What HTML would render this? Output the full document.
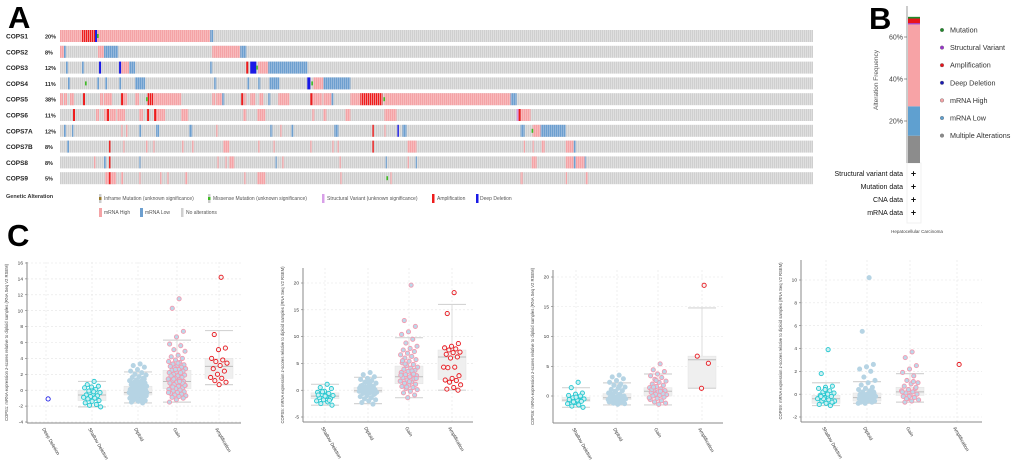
<!DOCTYPE html>
<html><head><meta charset="utf-8">
<style>
html,body{margin:0;padding:0;background:#fff;}
svg{display:block;font-family:"Liberation Sans",sans-serif;}
</style></head>
<body>
<svg id="fig" width="1020" height="460" viewBox="0 0 1020 460" xmlns="http://www.w3.org/2000/svg">
<defs>
<pattern id="stripe" width="2" height="12" patternUnits="userSpaceOnUse">
<rect width="2" height="12" fill="#e6e6e6"/><rect width="1.3" height="12" fill="#cfcfcf"/>
</pattern>
<pattern id="stripeH" width="2" height="12" patternUnits="userSpaceOnUse">
<rect width="2" height="12" fill="#f9c4c6"/><rect width="1.3" height="12" fill="#f4a3a6"/>
</pattern>
<pattern id="stripeL" width="2" height="12" patternUnits="userSpaceOnUse">
<rect width="2" height="12" fill="#a6c4e2"/><rect width="1.3" height="12" fill="#6d9fcf"/>
</pattern>
<pattern id="stripeA" width="2" height="12" patternUnits="userSpaceOnUse">
<rect width="2" height="12" fill="#f4a3a6"/><rect width="1.2" height="12" fill="#ee1c1c"/>
</pattern>
</defs>
<text x="8" y="28" font-size="31" font-weight="bold">A</text>
<text x="869" y="29" font-size="31" font-weight="bold">B</text>
<text x="7" y="246" font-size="31" font-weight="bold">C</text>
<g id="onco"></g>
<g id="legendA">
<text x="6" y="198" font-size="5.5" font-weight="bold" fill="#333">Genetic Alteration</text>
<rect x="99" y="194" width="2.5" height="9" fill="#ccc"/><rect x="99" y="197" width="2.5" height="3" fill="#9a7a2a"/>
<text x="104" y="200" font-size="5" fill="#555">Inframe Mutation (unknown significance)</text>
<rect x="208" y="194" width="2.5" height="9" fill="#ccc"/><rect x="208" y="197" width="2.5" height="3" fill="#3dbb22"/>
<text x="213" y="200" font-size="5" fill="#555">Missense Mutation (unknown significance)</text>
<rect x="322" y="194" width="2.5" height="9" fill="#d8a0e8"/>
<text x="327" y="200" font-size="5" fill="#555">Structural Variant (unknown significance)</text>
<rect x="432" y="194" width="2.5" height="9" fill="#ee1c1c"/>
<text x="437" y="200" font-size="5" fill="#555">Amplification</text>
<rect x="476" y="194" width="2.5" height="9" fill="#1a1ae6"/>
<text x="480" y="200" font-size="5" fill="#555">Deep Deletion</text>
<rect x="99" y="208" width="3" height="9" fill="#f4a3a6"/>
<text x="104" y="214" font-size="5" fill="#555">mRNA High</text>
<rect x="140" y="208" width="3" height="9" fill="#6d9fcf"/>
<text x="145" y="214" font-size="5" fill="#555">mRNA Low</text>
<rect x="181" y="208" width="2.5" height="9" fill="#cfcfcf"/>
<text x="186" y="214" font-size="5" fill="#555">No alterations</text>
</g>
<g id="panelB"></g>
<g id="panelC"></g>
</svg>
<script>
const NS="http://www.w3.org/2000/svg";
// ---------- Panel A data ----------
const genes=["COPS1","COPS2","COPS3","COPS4","COPS5","COPS6","COPS7A","COPS7B","COPS8","COPS9"];
const genePct=["20%","8%","12%","11%","38%","11%","12%","8%","8%","5%"];
const nSamples=376;
const alterations=[
[["H",0,75],["A",11,17.5],["D",17.5,18.5],["M",18.5,19.5],["L",75,76.5]],
[["H",0,2],["L",2,3],["H",19,22],["L",22,29],["H",76,90],["L",90,93]],
[["L",3,4],["L",11,12],["D",19.5,20.5],["D",29.5,30.5],["H",30.5,34.5],["L",34.5,37.5],["L",75,76],["A",93,94],["D",95,98],["M",98,99],["H",99,104],["L",104,123.5]],
[["L",4,5],["M",12.5,13],["L",18.5,19.5],["L",22.5,23.5],["L",29.5,30.5],["L",37.5,42.5],["L",77,78],["L",93.5,94.5],["L",99,100],["L",104.5,109.5],["D",123.5,125],["M",125.5,126.5],["H",126.5,131.5],["L",131.5,145]],
[["H",0,1.5],["H",2,3.5],["H",5,7],["A",11.5,12.5],["H",20,21.5],["H",22,26],["A",30.5,31.5],["H",31.5,33.5],["H",37.5,39.5],["M",43,43.5],["A",43.5,46.5],["H",46.5,60.5],["H",76,77.5],["H",78,81],["L",81,82],["A",90.5,91.5],["H",92,93],["H",95,97.5],["H",99.5,101.5],["L",104,105],["H",109,114.5],["A",125,126],["H",126,131],["H",131.5,135.5],["L",135.5,136.5],["H",145,161],["A",150,161],["M",161.5,162],["H",162,225],["L",225,228]],
[["A",6.5,7.5],["H",18,19.5],["H",22,23.5],["A",23.5,24.5],["H",25,28],["H",28.5,32.5],["H",39.5,41.5],["A",43.5,44.5],["H",47.5,52.5],["A",47,48],["H",60.5,64],["H",91.5,93],["H",98.5,102.5],["H",126,127],["H",131.5,133],["H",142.5,145],["H",162,168],["S",228,229],["A",229,230],["H",230,235]],
[["L",2,3],["L",6,6.5],["H",30.5,31],["H",33,33.5],["L",39.5,40.5],["L",48,49.5],["L",64.5,66],["H",78,78.5],["L",105,106],["H",110,110.5],["L",115.5,116.5],["L",137,139],["A",156,156.5],["H",162,162.5],["D",168.5,169],["L",171,173],["L",230,232],["M",235.5,236],["H",236,240],["L",240,252.5]],
[["L",3.5,4.5],["A",24.5,25],["H",31.5,32],["H",43,43.5],["H",46.5,47],["H",61,61.5],["H",66,66.5],["H",81.5,84.5],["H",99,99.5],["H",106.5,107],["H",125,125.5],["H",136,136.5],["H",138.5,139],["A",156,156.5],["H",173.5,178],["H",231.5,232],["H",236,236.5],["H",240.5,242],["H",252.5,256.5],["L",256.5,257.5]],
[["H",17,17.5],["L",22,23],["A",24.5,25],["L",39.5,40],["H",78.5,79],["H",82.5,83],["H",84.5,87],["L",107.5,108],["H",111,111.5],["H",139.5,140],["L",162.5,163],["H",173.5,174],["L",177.5,178],["H",235.5,238],["H",252.5,256.5],["L",256.5,257.5],["H",257.5,262],["L",262,262.5]],
[["H",22.5,28],["A",24.5,25],["H",30.5,31.5],["H",39.5,40],["H",50,50.5],["H",53.5,54],["H",62.5,63.5],["H",92,92.5],["H",98.5,102.5],["H",140,140.5],["M",163,163.5],["H",165,165.5],["H",230,231],["H",252.5,253],["H",262.5,263.5]]
];
function el(tag,attrs,parent){const e=document.createElementNS(NS,tag);for(const k in attrs)e.setAttribute(k,attrs[k]);parent.appendChild(e);return e;}
const onco=document.getElementById('onco');
const ox0=60, ox1=813;
const sx=i=>ox0+i*(ox1-ox0)/nSamples;
const fills={H:"url(#stripeH)",L:"url(#stripeL)",A:"#ee1c1c",D:"#1a1ae6",M:"#3dbb22",S:"#d8a0e8"};
genes.forEach((g,r)=>{
  const top=30+r*15.8;
  const row=el('g',{},onco);
  
  
  const lab=el('text',{x:6,y:top+8.5,'font-size':6.5,'font-weight':'bold',fill:'#222'},row);lab.textContent=g;
  
  
  const pc=el('text',{x:45,y:top+8.5,'font-size':5.5,'font-weight':'bold',fill:'#222'},row);pc.textContent=genePct[r];
  
  
  el('rect',{x:ox0,y:top,width:ox1-ox0,height:12,fill:'url(#stripe)'},row);
  const order={H:0,L:0,A:1,D:1,S:1,M:2};
  alterations[r].slice().sort((a,b)=>order[a[0]]-order[b[0]]).forEach(s=>{
    const x=sx(s[1]), w=Math.max(1.4,sx(s[2])-sx(s[1]));
    const isM=s[0]==="M";
    let f=fills[s[0]];
    if(s[0]==="A" && w>3) f="url(#stripeA)";
    const rc=el('rect',{x:x,y:isM?top+4:top,width:isM?1.6:w,height:isM?4:12,fill:f},row);
    
    
  });
});
// ---------- Panel B data ----------
const freqCats=["Multiple Alterations","mRNA Low","mRNA High","Structural Variant","Amplification","Mutation"];
const freqVals=[13,14,39,0.6,2.2,0.8];
const freqColors=["#8c8c8c","#5fa0d0","#f7a3a6","#9933cc","#e8141b","#1f8a2a"];
const bTicks=[20,40,60];
const legendLabels=["Mutation","Structural Variant","Amplification","Deep Deletion","mRNA High","mRNA Low","Multiple Alterations"];
const legendColors=["#1f8a2a","#9933cc","#e8141b","#1a1ab4","#f7a3a6","#5fa0d0","#8c8c8c"];
const dataRows=["Structural variant data","Mutation data","CNA data","mRNA data"];
const B=document.getElementById('panelB');
const by=v=>163-v*2.1;
el('rect',{x:907,y:163,width:14,height:60,fill:'none',stroke:'#eee','stroke-width':0.8},B);
el('line',{x1:907,y1:6,x2:907,y2:163,stroke:'#999','stroke-width':1},B);
bTicks.forEach(t=>{
  el('line',{x1:904,y1:by(t),x2:907,y2:by(t),stroke:'#555','stroke-width':0.6},B);
  const tx=el('text',{x:903,y:by(t)+2.5,'font-size':7,'text-anchor':'end',fill:'#444'},B);tx.textContent=t+'%';
  
  
});
let acc=0;
freqVals.forEach((v,i)=>{
  const r=el('rect',{x:908,y:by(acc+v),width:12,height:v*2.1,fill:freqColors[i]},B);
  
  
  acc+=v;
});
const yt=el('text',{x:0,y:0,'font-size':6.5,fill:'#555','text-anchor':'middle',transform:'translate(878,80) rotate(-90)'},B);yt.textContent="Alteration Frequency";


legendLabels.forEach((l,i)=>{
  const y=30+i*17.6;
  const c=el('circle',{cx:942,cy:y,r:1.8,fill:legendColors[i],stroke:'#666','stroke-width':0.4},B);
  
  
  const t=el('text',{x:950,y:y+2.5,'font-size':7.2,fill:'#333'},B);t.textContent=l;
  
  
});
dataRows.forEach((l,i)=>{
  const y=176+i*13;
  const t=el('text',{x:903,y:y,'font-size':7,'text-anchor':'end',fill:'#111'},B);t.textContent=l;
  
  
  const p=el('text',{x:913.5,y:y+0.5,'font-size':9,'font-weight':'bold','text-anchor':'middle',fill:'#111'},B);p.textContent='+';
  
  
});
const hc=el('text',{x:917,y:233,'font-size':4.5,'text-anchor':'middle',fill:'#444'},B);hc.textContent="Hepatocellular Carcinoma";



// ---------- Panel C data ----------
const plotTitles=["COPS1: mRNA expression z-scores relative to diploid samples (RNA Seq V2 RSEM)","COPS5: mRNA expression z-scores relative to diploid samples (RNA Seq V2 RSEM)","COPS6: mRNA expression z-scores relative to diploid samples (RNA Seq V2 RSEM)","COPS9: mRNA expression z-scores relative to diploid samples (RNA Seq V2 RSEM)"];
const plotCats=[["Deep Deletion","Shallow Deletion","Diploid","Gain","Amplification"],["Shallow Deletion","Diploid","Gain","Amplification"],["Shallow Deletion","Diploid","Gain","Amplification"],["Shallow Deletion","Diploid","Gain","Amplification"]];
const plotTicks=[[-4,-2,0,2,4,6,8,10,12,14,16],[-5,0,5,10,15,20],[0,5,10,15,20],[-2,0,2,4,6,8,10]];
const boxes1=[null,[-2.1,-1.3,-0.6,0,1.1],[-1.6,-0.6,-0.3,0.5,2.3],[-1.5,0.2,1.1,2.5,6.3],[0.7,1.5,3.0,4.0,7.5]];
const boxes2=[[-2.8,-1.6,-1.1,-0.5,1.1],[-2.5,-0.4,-0.1,0.5,2.4],[-1.4,1.2,2.5,4.5,9.8],[0,2,6.2,7.5,16]];
const boxes3=[[-1.9,-0.9,-0.7,-0.2,1.4],[-1.5,-0.6,-0.3,0.4,2.2],[-1.5,0,0.8,1.4,3.7],[1.3,1.3,6.1,6.7,14.8]];
const boxes4=[[-1,-0.8,-0.4,-0.1,1],[-0.8,-0.6,-0.3,0.1,1.1],[-0.7,-0.1,0.2,0.6,1.8],null];
const pts1=[[-1.1],
[1.1,0.7,0.5,0.4,0.3,0.1,-0.1,-0.3,-0.5,-0.6,-0.7,-0.8,-0.9,-1.0,-1.1,-1.3,-1.4,-1.6,-1.8,-1.9,-2.1,-0.2],
[3.3,3.1,2.9,2.6,2.4,2.2,2.0,1.9,1.7,1.6,1.5,1.3,1.2,1.1,1.0,0.9,0.8,0.7,0.6,0.5,0.5,0.4,0.3,0.3,0.2,0.1,0.1,0,0,-0.1,-0.1,-0.2,-0.2,-0.3,-0.3,-0.4,-0.4,-0.5,-0.5,-0.6,-0.6,-0.7,-0.8,-0.8,-0.9,-1.0,-1.0,-1.1,-1.2,-1.3,-1.4,-1.5,-1.6,0.2,-0.3,0.6,-0.7,1.4,-1.1,0.0],
[11.5,10.3,7.4,6.7,5.8,5.6,5.1,4.9,4.4,4.2,4.0,3.8,3.6,3.5,3.3,3.2,3.1,3.0,2.9,2.8,2.7,2.6,2.5,2.4,2.3,2.2,2.1,2.0,1.9,1.8,1.7,1.6,1.5,1.4,1.3,1.2,1.1,1.0,0.9,0.8,0.7,0.6,0.5,0.4,0.3,0.2,0.1,0,-0.1,-0.2,-0.3,-0.4,-0.5,-0.6,-0.7,-0.8,-0.9,-1.0,-1.2,-1.5,2.2,1.4,0.6,3.4,1.8,0.9,2.6,-0.3,1.1,0.4],
[14.2,7.0,5.3,5.1,4.0,3.8,3.6,3.4,3.1,2.7,2.4,2.0,1.6,1.5,1.2,1.0,0.7]];
const pts2=[[1.1,0.5,0.3,-0.2,-0.4,-0.6,-0.8,-1.0,-1.2,-1.4,-1.6,-1.8,-2.0,-2.2,-2.5,-2.8,-1.1,-0.9,-1.9,-0.3],
[3.3,2.9,2.5,2.2,2.0,1.8,1.5,1.3,1.1,0.9,0.7,0.5,0.4,0.3,0.2,0.1,0,-0.1,-0.2,-0.3,-0.4,-0.5,-0.6,-0.8,-1.0,-1.2,-1.4,-1.6,-1.8,-2.0,-2.3,-2.6,0.6,-0.2,1.0,0.2,-0.7,1.6,0.8,-0.1],
[19.6,13,11.9,10.9,10.4,9.5,8.8,8.2,7.8,7.5,7.2,6.9,6.6,6.3,6.0,5.7,5.4,5.1,4.8,4.6,4.3,4.1,3.9,3.7,3.5,3.3,3.1,2.9,2.7,2.5,2.3,2.1,1.9,1.7,1.5,1.3,1.1,0.9,0.7,0.5,0.3,0.1,-0.2,-0.5,-0.9,-1.4,2.8,3.6,4.9,2.2,1.6,5.5,3.0,0.6],
[18.2,14.3,8.7,8.2,7.9,7.7,7.5,7.1,7.0,6.7,6.2,6.0,4.3,4.3,4.2,2.7,2.2,1.9,1.8,1.5,1.0,0.5,0.2,0]];
const pts3=[[2.3,1.4,0.5,0.3,0.1,-0.1,-0.3,-0.5,-0.7,-0.8,-0.9,-1.1,-1.3,-1.5,-1.7,-1.9,-0.2,-0.6,0.0,-1.0],
[3.5,3.2,2.9,2.6,2.3,2.0,1.8,1.5,1.3,1.1,0.9,0.7,0.5,0.3,0.1,0,-0.1,-0.2,-0.3,-0.4,-0.5,-0.6,-0.7,-0.8,-0.9,-1.0,-1.1,-1.2,-1.3,-1.4,0.4,-0.3,0.8,-0.6,1.6,0.2],
[5.4,4.4,4.1,3.7,3.4,3.1,2.8,2.5,2.3,2.0,1.8,1.6,1.4,1.2,1.0,0.9,0.7,0.6,0.5,0.3,0.2,0.1,0,-0.2,-0.4,-0.6,-0.8,-1.0,-1.2,-1.4,1.1,0.4,2.6,-0.3,0.8,1.5],
[18.6,6.7,5.5,1.3]];
const pts4=[[3.9,1.8,0.7,0.6,0.5,0.3,0.2,0.1,0,-0.1,-0.2,-0.3,-0.4,-0.5,-0.6,-0.7,-0.8,-0.9,-1.0,-0.4,-0.6,0.0,-0.2,-0.7,0.4],
[10.2,5.5,2.6,2.4,2.2,2.0,1.5,1.2,1.0,0.8,0.6,0.5,0.4,0.3,0.2,0.1,0,0,-0.1,-0.1,-0.2,-0.2,-0.3,-0.3,-0.4,-0.4,-0.5,-0.5,-0.6,-0.6,-0.7,-0.7,-0.8,-0.8,0.1,-0.3,0.2,-0.5,-0.1,0.3],
[3.7,3.2,2.5,2.2,1.9,1.6,1.2,1.0,0.9,0.7,0.5,0.4,0.3,0.2,0.1,0,-0.1,-0.2,-0.3,-0.4,-0.5,-0.6,-0.7,0.6,-0.2,0.2,1.1,-0.4],
[2.6]];
const ptsAll=[pts1,pts2,pts3,pts4];
const boxesAll=[boxes1,boxes2,boxes3,boxes4];
const layouts=[
 {x0:27,x1:241,yTop:262,yBot:423,vTop:16,pTop:263,vRef:-4,pRef:422,cx:[46,92,138,177,219]},
 {x0:303,x1:473,yTop:268,yBot:422,vTop:20,pTop:283,vRef:-5,pRef:417,cx:[325,368,409,452]},
 {x0:553,x1:723,yTop:270,yBot:423,vTop:20,pTop:277,vRef:0,pRef:396,cx:[576,617,658,702]},
 {x0:801,x1:982,yTop:260,yBot:422,vTop:10,pTop:280,vRef:-2,pRef:417,cx:[826,867,910,957]}
];
const catStyle={"Deep Deletion":["#1a1ae6","#ffffff"],"Shallow Deletion":["#22c7cf","#cdeff2"],"Diploid":["#b6d4e4","#b6d4e4"],"Gain":["#f39bb0","#bcd8ea"],"Amplification":["#e8141b","#f4f4f4"]};
const C=document.getElementById('panelC');
layouts.forEach((L,p)=>{
  const g=el('g',{},C);
  
  
  const yS=v=>L.pRef+(v-L.vRef)*(L.pTop-L.pRef)/(L.vTop-L.vRef);
  plotTicks[p].forEach(t=>{
    el('line',{x1:L.x0,y1:yS(t),x2:L.x1,y2:yS(t),stroke:'#e4e4e4','stroke-width':0.6,'stroke-dasharray':'2,2'},g);
    el('line',{x1:L.x0-2,y1:yS(t),x2:L.x0,y2:yS(t),stroke:'#555','stroke-width':0.5},g);
    const tx=el('text',{x:L.x0-4,y:yS(t)+1.6,'font-size':4.8,'text-anchor':'end',fill:'#333'},g);tx.textContent=t;
    
    
  });
  const cats=plotCats[p];
  cats.forEach((c,ci)=>{
    const x=L.cx[ci];
    el('line',{x1:x,y1:L.yTop,x2:x,y2:L.yBot,stroke:'#e4e4e4','stroke-width':0.6,'stroke-dasharray':'2,2'},g);
    const lb=el('text',{x:0,y:0,'font-size':4.8,fill:'#333',transform:`translate(${x-4},${L.yBot+6}) rotate(60)`},g);lb.textContent=c;
    
    
    const b=boxesAll[p][ci];
    if(b){
      const hw=14;
      el('line',{x1:x,y1:yS(b[0]),x2:x,y2:yS(b[4]),stroke:'#dcdcdc','stroke-width':1},g);
      const bx=el('rect',{x:x-hw,y:yS(b[3]),width:hw*2,height:Math.max(0.5,yS(b[1])-yS(b[3])),fill:'#efefef',stroke:'#e2e2e2','stroke-width':0.5},g);
      
      
      [b[0],b[4]].forEach(v=>el('line',{x1:x-hw,y1:yS(v),x2:x+hw,y2:yS(v),stroke:'#d4d4d4','stroke-width':1.2},g));
      el('line',{x1:x-hw,y1:yS(b[2]),x2:x+hw,y2:yS(b[2]),stroke:'#bdbdbd','stroke-width':1},g);
    }
    const st=catStyle[c];
    ptsAll[p][ci].forEach((v,i)=>{
      const frac=((i+1)*0.6180339887)%1;
      const jit=(frac-0.5)*18;
      const pt=el('circle',{cx:x+jit,cy:yS(v),r:2.1,fill:st[1],stroke:st[0],'stroke-width':0.9},g);
      
      
    });
  });
  el('line',{x1:L.x0,y1:L.yTop,x2:L.x0,y2:L.yBot,stroke:'#888','stroke-width':1},g);
  el('line',{x1:L.x0,y1:L.yBot,x2:L.x1,y2:L.yBot,stroke:'#888','stroke-width':1},g);
  const tt=el('text',{x:0,y:0,'font-size':4.2,fill:'#444','text-anchor':'middle',transform:`translate(${L.x0-19},${(L.yTop+L.yBot)/2}) rotate(-90)`},g);tt.textContent=plotTitles[p];
  
  
});
</script>
</body></html>
